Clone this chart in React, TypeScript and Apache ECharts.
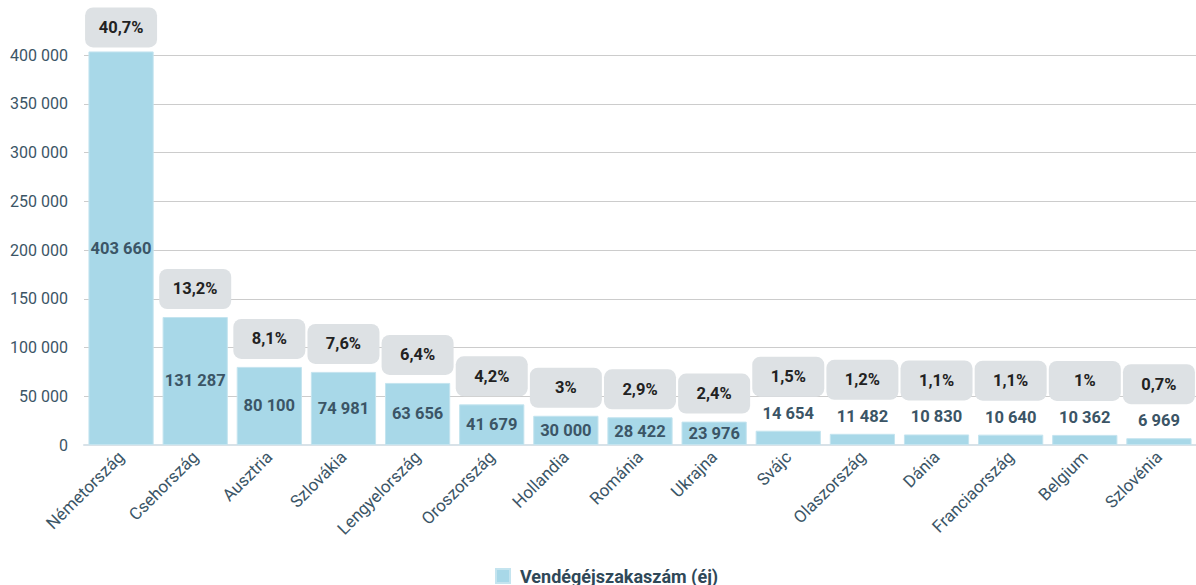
import React, { useEffect, useRef } from "react";
import * as echarts from "echarts";

const categories = [
  "Németország", "Csehország", "Ausztria", "Szlovákia", "Lengyelország",
  "Oroszország", "Hollandia", "Románia", "Ukrajna", "Svájc",
  "Olaszország", "Dánia", "Franciaország", "Belgium", "Szlovénia",
];
const values = [
  403660, 131287, 80100, 74981, 63656, 41679, 30000, 28422, 23976, 14654,
  11482, 10830, 10640, 10362, 6969,
];
const shares = [
  "40,7%", "13,2%", "8,1%", "7,6%", "6,4%", "4,2%", "3%", "2,9%", "2,4%", "1,5%",
  "1,2%", "1,1%", "1,1%", "1%", "0,7%",
];
const yTicks = { min: 0, max: 400000, interval: 50000 };
const seriesName = "Vendégéjszakaszám (éj)";

const fmt = (v: number) => String(Math.round(v)).replace(/\B(?=(\d{3})+(?!\d))/g, " ");

export default function App() {
  const ref = useRef<HTMLDivElement>(null);
  useEffect(() => {
    document.body.style.margin = "0";
    const chart = echarts.init(ref.current!, undefined, { renderer: "svg" });
    const font = "Roboto";
    const textColor = "#3b5566";
    const small = (v: number) => v < 20000;
    chart.setOption({
      animation: false,
      textStyle: { fontFamily: font },
      grid: { left: 84, right: 0, top: 55, bottom: 140, containLabel: false },
      legend: {
        data: [seriesName],
        left: 495,
        top: 567,
        padding: 0,
        icon: "rect",
        itemWidth: 14,
        itemHeight: 14,
        itemGap: 10,
        textStyle: {
          fontFamily: font,
          fontSize: 18,
          fontWeight: "bold",
          color: "#2f4858",
          padding: [0, 0, 0, 5],
        },
      },
      xAxis: {
        type: "category",
        data: categories,
        axisTick: { show: false },
        axisLine: { lineStyle: { color: "#d8e2e8", width: 2 } },
        axisLabel: {
          rotate: 45,
          interval: 0,
          margin: 9,
          fontFamily: font,
          fontSize: 17,
          color: textColor,
        },
      },
      yAxis: {
        type: "value",
        min: yTicks.min,
        max: yTicks.max,
        interval: yTicks.interval,
        axisLine: { show: false },
        axisTick: { show: false },
        splitLine: { lineStyle: { color: "#cccccc", width: 1 } },
        axisLabel: {
          margin: 16,
          fontFamily: font,
          fontSize: 16,
          color: textColor,
          formatter: (v: number) => fmt(v),
        },
      },
      series: [
        {
          name: seriesName,
          type: "bar",
          barCategoryGap: "12%",
          clip: false,
          itemStyle: { color: "#a8d8e8", borderColor: "#c4e4ef", borderWidth: 1 },
          data: values.map((v) => ({
            value: v,
            label: small(v)
              ? { position: "top", distance: 9 }
              : { position: "inside" },
          })),
          label: {
            show: true,
            fontFamily: font,
            fontSize: 16.5,
            fontWeight: "bold",
            color: textColor,
            formatter: (p: any) => fmt(p.value),
          },
          z: 2,
        },
        {
          name: "pct",
          type: "bar",
          barGap: "-100%",
          barCategoryGap: "12%",
          clip: false,
          silent: true,
          itemStyle: { color: "rgba(0,0,0,0)" },
          data: values.map((v, i) => ({
            value: v,
            label: { distance: small(v) ? 34 : i === 0 ? 4 : 8 },
          })),
          label: {
            show: true,
            position: "top",
            formatter: (p: any) => shares[p.dataIndex],
            fontFamily: font,
            fontSize: 16.5,
            fontWeight: "bold",
            color: "#222222",
            backgroundColor: "#dde1e4",
            borderRadius: 8,
            width: 72,
            height: 18,
            lineHeight: 18,
            padding: [11, 0],
            align: "center",
          },
          z: 3,
        },
      ],
    });
    return () => chart.dispose();
  }, []);
  return <div ref={ref} style={{ width: 1196, height: 585 }} />;
}
